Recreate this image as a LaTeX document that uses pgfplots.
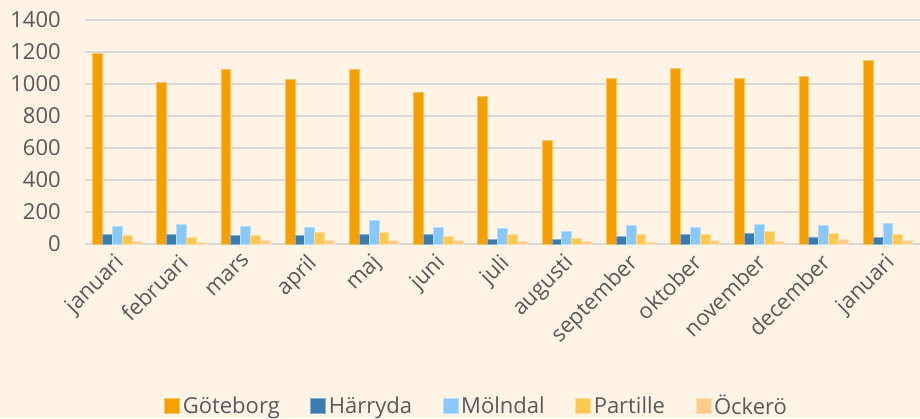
\documentclass[border=0pt]{standalone}
\usepackage{pgfplots}
\pgfplotsset{compat=1.18}
\usepackage{pgfplotstable}
\usepackage{fontspec}
\setmainfont{Open Sans}
\usetikzlibrary{backgrounds}
\definecolor{bg}{HTML}{FDF4E6}
\definecolor{txt}{HTML}{595959}
\definecolor{gridc}{HTML}{D9D9D9}
\definecolor{cGbg}{HTML}{F5A000}
\definecolor{cHar}{HTML}{3A7BB0}
\definecolor{cMol}{HTML}{88C8FA}
\definecolor{cPar}{HTML}{FFC850}
\definecolor{cOck}{HTML}{FFCB8A}
\pgfplotstableread{
x Gbg Har Mol Par Ock
0 1190 57 112 53 18
1 1012 57 120 40 13
2 1094 53 112 55 23
3 1027 53 105 72 21
4 1094 57 145 72 23
5 948 57 105 48 21
6 920 30 97 57 17
7 648 30 80 32 17
8 1037 48 118 61 13
9 1098 57 105 57 23
10 1037 66 122 76 17
11 1046 44 118 66 30
12 1146 40 126 61 21
}\data
\begin{document}
\begin{tikzpicture}
\begin{axis}[
  scale only axis,
  width=626.25pt, height=168pt,
  xmin=-0.5, xmax=12.5, ymin=0, ymax=1400,
  ybar=0pt, bar width=7.4pt,
  axis line style={draw=none},
  major tick length=0pt,
  ytick={0,200,...,1400},
  ymajorgrids, xmajorgrids=false,
  major grid style={draw=gridc, line width=1.1pt},
  xtick={0,...,12},
  xticklabels={januari,februari,mars,april,maj,juni,juli,augusti,september,oktober,november,december,januari},
  /pgf/number format/assume math mode=true,
  /pgf/number format/1000 sep={},
  yticklabel style={font=\fontsize{16.5}{18}\selectfont, text=txt, anchor=east, inner sep=0pt, xshift=-18pt},
  xticklabel style={font=\fontsize{16.5}{18}\selectfont, text=txt, anchor=north east, inner sep=0pt, xshift=-3pt, yshift=-6pt, rotate=45},
  legend style={at={(0.4695,-0.7225)}, anchor=center, draw=none, fill=none,
    font=\fontsize{16.5}{18}\selectfont, text=txt, legend columns=5,
    /tikz/every even column/.style={column sep=21pt}},
  legend image code/.code={\fill[#1] (0pt,-5.6pt) rectangle (11.2pt,5.6pt);},
]
\addplot[fill=cGbg, draw=cGbg!60!white, line width=0.6pt] table[x=x,y=Gbg]{\data};
\addplot[fill=cHar, draw=cHar!60!white, line width=0.6pt] table[x=x,y=Har]{\data};
\addplot[fill=cMol, draw=cMol!60!white, line width=0.6pt] table[x=x,y=Mol]{\data};
\addplot[fill=cPar, draw=cPar!60!white, line width=0.6pt] table[x=x,y=Par]{\data};
\addplot[fill=cOck, draw=cOck!60!white, line width=0.6pt] table[x=x,y=Ock]{\data};
\legend{Göteborg,Härryda,Mölndal,Partille,Öckerö}
\end{axis}
\begin{scope}[on background layer]
\fill[bg] (-63.75pt,-130.5pt) rectangle (626.25pt,183pt);
\end{scope}
\pgfresetboundingbox
\useasboundingbox (-63.75pt,-130.5pt) rectangle (626.25pt,183pt);
\end{tikzpicture}
\end{document}
